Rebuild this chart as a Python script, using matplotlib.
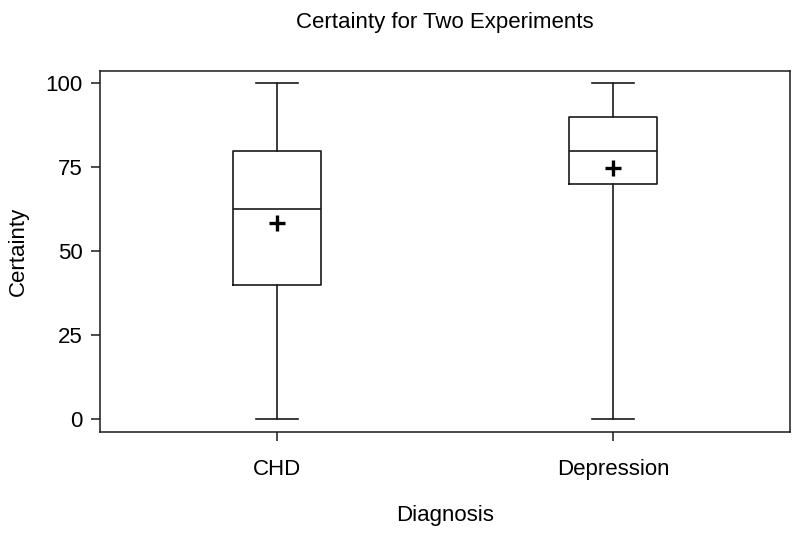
import matplotlib
matplotlib.use("Agg")
import matplotlib.pyplot as plt

categories = ["CHD", "Depression"]
mins = [0, 0]
q1s = [40, 70]
medians = [62.5, 80]
q3s = [80, 90]
maxs = [100, 100]
means = [58.4, 74.8]
yticks = [0, 25, 50, 75, 100]

plt.rcParams['font.family'] = ['Liberation Sans', 'DejaVu Sans']

fig = plt.figure(figsize=(8, 5.35), dpi=100)
ax = fig.add_axes([0.125, 0.1925, 0.8625, 0.675])

stats = []
for i, c in enumerate(categories):
    stats.append(dict(label=c, whislo=mins[i], q1=q1s[i], med=medians[i],
                      q3=q3s[i], whishi=maxs[i], mean=means[i], fliers=[]))

lp = dict(color='#1a1a1a', linewidth=1.2)
ax.bxp(stats, positions=[1, 2], widths=0.26, capwidths=0.125, showmeans=True,
       boxprops=lp, whiskerprops=lp, capprops=lp,
       medianprops=lp,
       meanprops=dict(marker='+', markeredgecolor='black', markersize=12,
                      markeredgewidth=2.4, linestyle='none'))

ax.set_xlim(0.473, 2.527)
ax.set_ylim(-3.8, 103.7)
ax.set_yticks(yticks)
ax.set_yticklabels([str(v) for v in yticks])
ax.tick_params(axis='both', direction='out', length=6.5, width=1.1,
               labelsize=16, color='#1a1a1a')
ax.tick_params(axis='y', pad=6)
ax.tick_params(axis='x', pad=13)
for s in ax.spines.values():
    s.set_linewidth(1.1)
    s.set_color('#1a1a1a')

ax.set_title("Certainty for Two Experiments", fontsize=16, pad=31)
ax.set_xlabel("Diagnosis", fontsize=16, labelpad=18)
ax.set_ylabel("Certainty", fontsize=16, labelpad=12)

fig.savefig("out.png", dpi=100)
